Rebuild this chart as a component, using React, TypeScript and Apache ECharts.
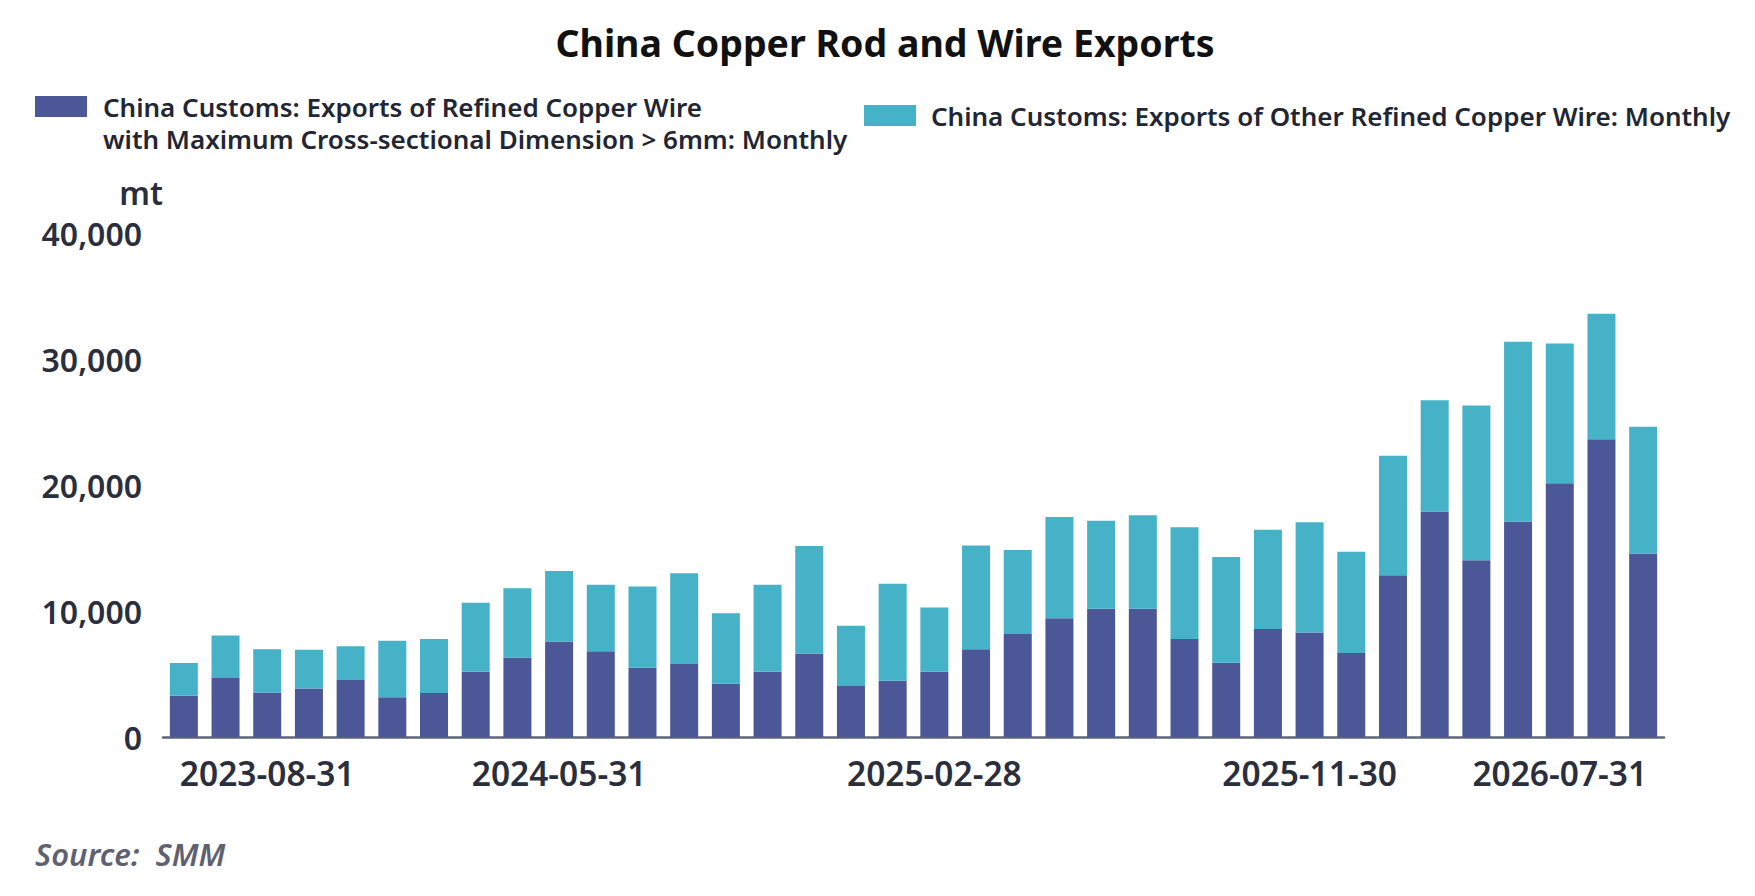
import { useEffect, useRef } from "react";
import * as echarts from "echarts";

const categories = [
  "2023-06-30", "2023-07-31", "2023-08-31", "2023-09-30", "2023-10-31", "2023-11-30",
  "2023-12-31", "2024-03-31", "2024-04-30", "2024-05-31", "2024-06-30", "2024-07-31",
  "2024-08-31", "2024-09-30", "2024-10-31", "2024-11-30", "2024-12-31", "2025-01-31",
  "2025-02-28", "2025-03-31", "2025-04-30", "2025-05-31", "2025-06-30", "2025-07-31",
  "2025-08-31", "2025-09-30", "2025-10-31", "2025-11-30", "2025-12-31", "2026-03-31",
  "2026-04-30", "2026-05-31", "2026-06-30", "2026-07-31", "2026-08-31", "2026-09-30",
];

const refinedWireOver6mm = [
  3270, 4680, 3530, 3850, 4520, 3160, 3500, 5180, 6300, 7570, 6800, 5500,
  5800, 4220, 5180, 6630, 4040, 4460, 5180, 6960, 8180, 9430, 10180, 10180,
  7780, 5900, 8580, 8300, 6670, 12830, 17900, 14020, 17100, 20140, 23640, 14560,
];

const otherRefinedWire = [
  2600, 3370, 3430, 3080, 2680, 4470, 4280, 5470, 5500, 5600, 5290, 6450,
  7200, 5600, 6910, 8530, 4780, 7710, 5100, 8240, 6670, 8040, 6980, 7420,
  8870, 8390, 7860, 8740, 8040, 9500, 8820, 12280, 14270, 11100, 9960, 10060,
];

const xTickLabels = ["2023-08-31", "2024-05-31", "2025-02-28", "2025-11-30", "2026-07-31"];

const legendLine1 = "China Customs: Exports of Refined Copper Wire";
const legendLine2 = "with Maximum Cross-sectional Dimension > 6mm: Monthly";
const seriesName1 = legendLine1 + " " + legendLine2;
const seriesName2 = "China Customs: Exports of Other Refined Copper Wire: Monthly";

const FONT = "'Noto Sans', 'Open Sans', sans-serif";
const DARK = "#4B5796";
const CYAN = "#45B2C7";
const TEXT = "#222634";

export default function App() {
  const ref = useRef<HTMLDivElement>(null);
  useEffect(() => {
    if (!ref.current) return;
    const chart = echarts.init(ref.current, null, { renderer: "svg" });
    chart.setOption({
      animation: false,
      backgroundColor: "#ffffff",
      textStyle: { fontFamily: FONT },
      title: [
        {
          text: "China Copper Rod and Wire Exports",
          left: 885,
          textAlign: "center",
          top: 23,
          padding: 0,
          textStyle: { fontSize: 37.5, fontWeight: 700, color: "#111111", fontFamily: FONT },
        },
        {
          text: "Source:  SMM",
          left: 35,
          top: 838,
          padding: 0,
          textStyle: {
            fontSize: 31,
            fontWeight: 600,
            fontStyle: "italic",
            color: "#5d6172",
            fontFamily: FONT,
          },
        },
      ],
      legend: [
        {
          data: [seriesName1],
          left: 35,
          top: 91,
          padding: 0,
          icon: "rect",
          itemWidth: 52,
          itemHeight: 21,
          selectedMode: false,
          formatter: () => legendLine1,
          textStyle: {
            fontSize: 26,
            fontWeight: 600,
            color: TEXT,
            lineHeight: 31,
            padding: [0, 0, 0, 11],
            fontFamily: FONT,
          },
        },
        {
          data: [seriesName2],
          left: 864,
          top: 100,
          padding: 0,
          icon: "rect",
          itemWidth: 52,
          itemHeight: 21,
          selectedMode: false,
          textStyle: {
            fontSize: 26,
            fontWeight: 600,
            color: TEXT,
            lineHeight: 31,
            padding: [0, 0, 0, 10],
            fontFamily: FONT,
          },
        },
      ],
      graphic: [
        {
          type: "text",
          x: 103,
          y: 139,
          silent: true,
          style: {
            text: legendLine2,
            fontSize: 26,
            fontWeight: 600,
            fontFamily: FONT,
            fill: TEXT,
            align: "left",
            verticalAlign: "middle",
          },
        },
      ],
      grid: { left: 163, right: 91, top: 233, bottom: 159, containLabel: false },
      xAxis: {
        type: "category",
        data: categories,
        boundaryGap: true,
        axisTick: { show: false },
        axisLine: { show: true, lineStyle: { color: "#5f6577", width: 2.5 } },
        axisLabel: {
          interval: (_i: number, v: string) => xTickLabels.includes(v),
          margin: 19,
          fontSize: 33.5,
          fontWeight: 600,
          color: "#2b2f3d",
          fontFamily: FONT,
        },
      },
      yAxis: {
        type: "value",
        min: 0,
        max: 40000,
        interval: 10000,
        name: "mt",
        nameLocation: "end",
        nameGap: 41,
        nameTextStyle: {
          fontSize: 32,
          fontWeight: 600,
          color: "#2b2f3d",
          align: "right",
          verticalAlign: "middle",
          fontFamily: FONT,
        },
        splitLine: { show: false },
        axisLine: { show: false },
        axisTick: { show: false },
        axisLabel: {
          margin: 21,
          fontSize: 32,
          fontWeight: 600,
          color: "#2b2f3d",
          fontFamily: FONT,
          formatter: (v: number) => v.toLocaleString("en-US"),
        },
      },
      series: [
        {
          name: seriesName1,
          type: "bar",
          stack: "total",
          barWidth: 28,
          data: refinedWireOver6mm,
          itemStyle: { color: DARK },
        },
        {
          name: seriesName2,
          type: "bar",
          stack: "total",
          barWidth: 28,
          data: otherRefinedWire,
          itemStyle: { color: CYAN },
        },
      ],
    });
    return () => chart.dispose();
  }, []);
  return (
    <div
      ref={ref}
      style={{ position: "fixed", left: 0, top: 0, width: 1755, height: 896, background: "#fff" }}
    />
  );
}
